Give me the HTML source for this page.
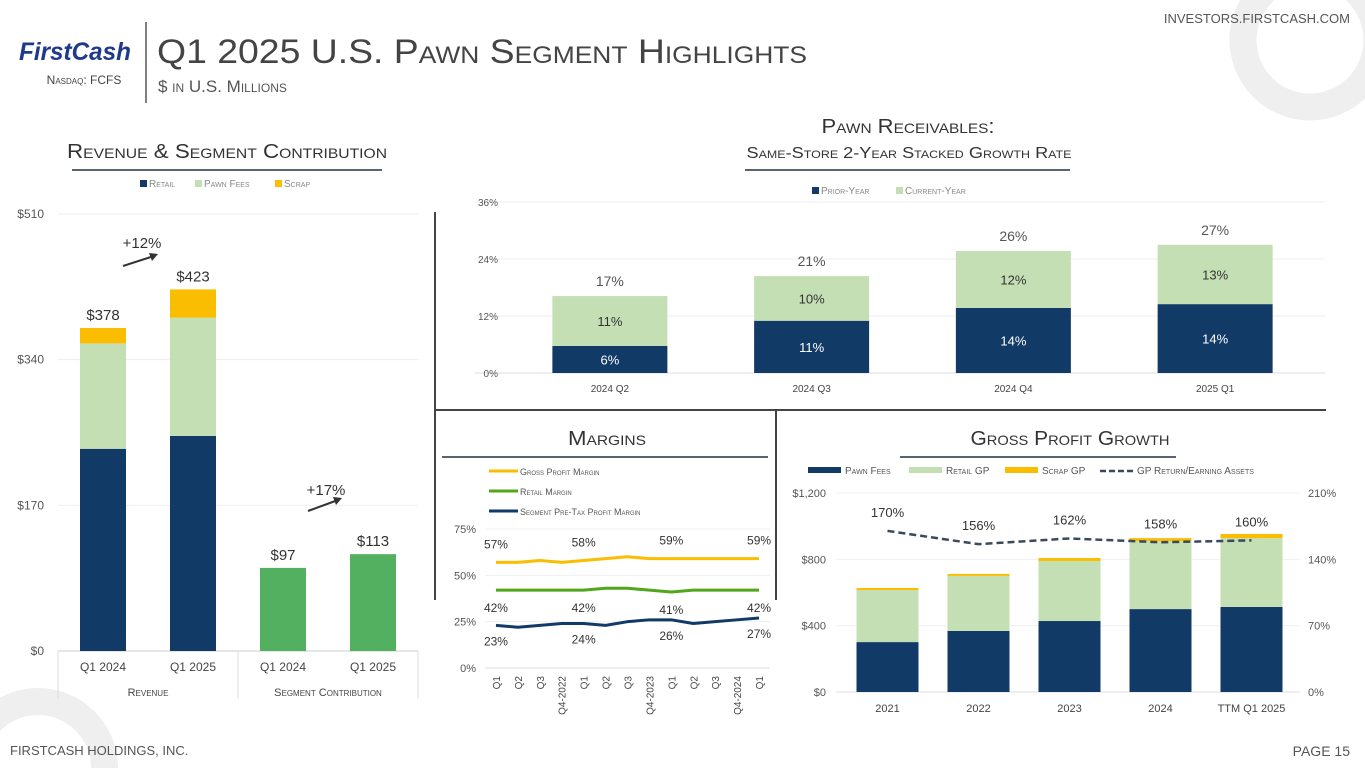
<!DOCTYPE html>
<html><head><meta charset="utf-8"><style>
html,body{margin:0;padding:0;background:#fff;font-family:"Liberation Sans",sans-serif;overflow:hidden;width:1365px;height:768px;}
svg{display:block;}
svg text{font-family:"Liberation Sans",sans-serif;}
</style></head><body>
<svg id="s" width="1365" height="768" viewBox="0 0 1365 768" xmlns="http://www.w3.org/2000/svg">
<circle cx="1310" cy="40" r="67" fill="none" stroke="#efefef" stroke-width="27"/>
<path d="M -42 768 A 80 80 0 0 1 118 768 L 91 768 A 53 53 0 0 0 -15 768 Z" fill="#efefef"/>
<g>
<text x="75" y="60" font-size="25" font-weight="bold" font-style="italic" fill="#1f3a8a" text-anchor="middle" textLength="112" lengthAdjust="spacingAndGlyphs">FirstCash</text>
<text x="84" y="84" font-size="12" fill="#444" text-anchor="middle" style="font-variant:small-caps">Nasdaq: FCFS</text>
</g>
<line x1="146" y1="22" x2="146" y2="103" stroke="#555" stroke-width="1.5"/>
<text x="157" y="63" font-size="34" fill="#444" textLength="650" lengthAdjust="spacingAndGlyphs" style="font-variant:small-caps">Q1 2025 U.S. Pawn Segment Highlights</text>
<text x="158" y="92" font-size="17" fill="#555" style="font-variant:small-caps">$ in U.S. Millions</text>
<text x="1350" y="23" font-size="13" fill="#555" text-anchor="end">INVESTORS.FIRSTCASH.COM</text>
<text x="10" y="755" font-size="13" fill="#555">FIRSTCASH HOLDINGS, INC.</text>
<text x="1350" y="756" font-size="14" fill="#555" text-anchor="end">PAGE 15</text>

<line x1="435" y1="212" x2="435" y2="600" stroke="#444" stroke-width="2"/>
<line x1="435" y1="410" x2="1326" y2="410" stroke="#444" stroke-width="2"/>
<line x1="776" y1="410" x2="776" y2="600" stroke="#444" stroke-width="2"/>

<g id="left"></g>
<g id="rec"></g>
<g id="mar"></g>
<g id="gp"></g>
</svg>
<script>
// ===== Revenue & segment contribution =====
const revCats=["Q1 2024","Q1 2025"];
const revRetail=[236,251];
const revPawn=[123,138];
const revScrap=[18,33];
const revTotals=["$378","$423"];
const segCats=["Q1 2024","Q1 2025"];
const segValues=[97,113];
const segLabels=["$97","$113"];
const revTicks=[0,170,340,510];

// ===== Receivables =====
const recCats=["2024 Q2","2024 Q3","2024 Q4","2025 Q1"];
const recPrior=[5.7,11,13.7,14.5];
const recCurrent=[10.5,9.4,12,12.5];
const recPriorLbl=["6%","11%","14%","14%"];
const recCurLbl=["11%","10%","12%","13%"];
const recTotLbl=["17%","21%","26%","27%"];
const recTicks=[0,12,24,36];

// ===== Margins =====
const marCats=["Q1","Q2","Q3","Q4-2022","Q1","Q2","Q3","Q4-2023","Q1","Q2","Q3","Q4-2024","Q1"];
const marGross=[57,57,58,57,58,59,60,59,59,59,59,59,59];
const marRetail=[42,42,42,42,42,43,43,42,41,42,42,42,42];
const marPretax=[23,22,23,24,24,23,25,26,26,24,25,26,27];
const marTicks=[0,25,50,75];

// ===== Gross profit =====
const gpCats=["2021","2022","2023","2024","TTM Q1 2025"];
const gpPawn=[301,368,428,500,513];
const gpRetail=[314,332,362,410,415];
const gpScrap=[12,12,18,18,25];
const gpReturn=[170,156,162,158,160];
const gpTicksL=[0,400,800,1200];
const gpTicksR=[0,70,140,210];

const NS="http://www.w3.org/2000/svg";
function mk(parent,tag,attrs,text){const e=document.createElementNS(NS,tag);for(const k in attrs)e.setAttribute(k,attrs[k]);if(text!==undefined)e.textContent=text;parent.appendChild(e);return e;}

function title(g,x,y,txt,ul1,ul2,size,name,w){
  const at={x:x,y:y,"font-size":size,fill:"#333","text-anchor":"middle",style:"font-variant:small-caps"};
  if(w){at.textLength=w;at.lengthAdjust="spacingAndGlyphs";}
  const t=mk(g,"text",at,txt);
  
  
  if(ul1!==null){const l=mk(g,"line",{x1:ul1,x2:ul2,y1:y+12,y2:y+12,stroke:"#5a6470","stroke-width":2});
  
  }
}
function legendSq(g,x,y,color,label,name){
  const r=mk(g,"rect",{x:x,y:y-7,width:7,height:7,fill:color});
  
  
  const t=mk(g,"text",{x:x+9,y:y,"font-size":10,fill:"#888",style:"font-variant:small-caps"},label);
  
  
}

// ---- left chart
(function(){
  const g=document.getElementById("left");
  title(g,227,158,"Revenue & Segment Contribution",72,382,20,"revenue-title",320);
  legendSq(g,140,187,"#123a67","Retail","legend-retail");
  legendSq(g,195,187,"#c5dfb5","Pawn Fees","legend-pawn-fees");
  legendSq(g,275,187,"#fbbd00","Scrap","legend-scrap");
  const y0=651,yMax=214,vMax=510;
  const y=v=>y0-(v/vMax)*(y0-yMax);
  const xL=58,xR=418,n=4,slot=(xR-xL)/n,bw=46;
  const xc=i=>xL+slot*(i+0.5);
  revTicks.forEach(t=>{
    if(t>0){const l=mk(g,"line",{x1:xL,x2:xR,y1:y(t),y2:y(t),stroke:"#eee"});}
    const tx=mk(g,"text",{x:44,y:y(t)+4,"font-size":12,fill:"#555","text-anchor":"end"},"$"+t);
    
    
  });
  const base=mk(g,"line",{x1:xL,x2:xR,y1:y0,y2:y0,stroke:"#ccc"});
  [xL,(xL+xR)/2,xR].forEach(x=>{const l=mk(g,"line",{x1:x,x2:x,y1:y0,y2:y0+48,stroke:"#ddd"});});
  revCats.forEach((c,i)=>{
    const x=xc(i)-bw/2;let acc=0;
    [[revRetail,"#123a67","retail"],[revPawn,"#c5dfb5","pawn-fees"],[revScrap,"#fbbd00","scrap"]].forEach(([arr,col,nm])=>{
      const r=mk(g,"rect",{x:x,y:y(acc+arr[i]),width:bw,height:y(acc)-y(acc+arr[i]),fill:col});
      
      
      acc+=arr[i];
    });
    const t=mk(g,"text",{x:xc(i),y:y(acc)-8,"font-size":15,fill:"#333","text-anchor":"middle"},revTotals[i]);
    
    
    const xt=mk(g,"text",{x:xc(i),y:y0+20,"font-size":12,fill:"#444","text-anchor":"middle"},c);
    
    
  });
  segCats.forEach((c,i)=>{
    const j=i+2;
    const r=mk(g,"rect",{x:xc(j)-bw/2,y:y(segValues[i]),width:bw,height:y0-y(segValues[i]),fill:"#52b060"});
    
    
    const t=mk(g,"text",{x:xc(j),y:y(segValues[i])-8,"font-size":15,fill:"#333","text-anchor":"middle"},segLabels[i]);
    
    
    const xt=mk(g,"text",{x:xc(j),y:y0+20,"font-size":12,fill:"#444","text-anchor":"middle"},c);
    
    
  });
  const g1=mk(g,"text",{x:(xL+(xL+xR)/2)/2,y:696,"font-size":11,fill:"#444","text-anchor":"middle",style:"font-variant:small-caps"},"Revenue");
  
  const g2=mk(g,"text",{x:((xL+xR)/2+xR)/2,y:696,"font-size":11,fill:"#444","text-anchor":"middle",style:"font-variant:small-caps"},"Segment Contribution");
  
  [[123,266,158,254,142,248,"+12%"],[308,511,342,498,326,495,"+17%"]].forEach(a=>{
    const l=mk(g,"line",{x1:a[0],y1:a[1],x2:a[2]-4,y2:a[3]+2,stroke:"#333","stroke-width":2});
    
    const p=mk(g,"polygon",{points:`${a[2]},${a[3]} ${a[2]-9},${a[3]-1} ${a[2]-6},${a[3]+7}`,fill:"#333"});
    
    const t=mk(g,"text",{x:a[4],y:a[5],"font-size":15,fill:"#333","text-anchor":"middle"},a[6]);
    
  });
})();

// ---- receivables
(function(){
  const g=document.getElementById("rec");
  title(g,908,133,"Pawn Receivables:",null,null,20,"receivables-title",173);
  title(g,909,158,"Same-Store 2-Year Stacked Growth Rate",745,1070,16,"receivables-subtitle",325);
  legendSq(g,812,194,"#123a67","Prior-Year","legend-prior-year");
  legendSq(g,896,194,"#c5dfb5","Current-Year","legend-current-year");
  const y0=373,yTop=202;const y=v=>y0-(v/36)*(y0-yTop);
  const gL=475,gR=1325;
  const xL=509,xR=1316,slot=(xR-xL)/4,bw=115;const xc=i=>xL+slot*(i+0.5);
  recTicks.forEach(t=>{
    const l=mk(g,"line",{x1:gL,x2:gR,y1:y(t),y2:y(t),stroke:t?"#eee":"#ddd"});
    const tx=mk(g,"text",{x:498,y:y(t)+4,"font-size":10,fill:"#555","text-anchor":"end"},t+"%");
    
  });
  recCats.forEach((c,i)=>{
    const x=xc(i)-bw/2;
    const r1=mk(g,"rect",{x:x,y:y(recPrior[i]),width:bw,height:y0-y(recPrior[i]),fill:"#123a67"});
    
    const tot=recPrior[i]+recCurrent[i];
    const r2=mk(g,"rect",{x:x,y:y(tot),width:bw,height:y(recPrior[i])-y(tot),fill:"#c5dfb5"});
    
    const t1=mk(g,"text",{x:xc(i),y:(y0+y(recPrior[i]))/2+5,"font-size":13,fill:"#fff","text-anchor":"middle"},recPriorLbl[i]);
    
    const t2=mk(g,"text",{x:xc(i),y:(y(recPrior[i])+y(tot))/2+5,"font-size":13,fill:"#333","text-anchor":"middle"},recCurLbl[i]);
    
    const t3=mk(g,"text",{x:xc(i),y:y(tot)-10,"font-size":14,fill:"#555","text-anchor":"middle"},recTotLbl[i]);
    
    const xt=mk(g,"text",{x:xc(i),y:392,"font-size":10,fill:"#444","text-anchor":"middle"},c);
    
  });
})();

// ---- margins
(function(){
  const g=document.getElementById("mar");
  title(g,607,445,"Margins",442,768,20,"margins-title",78);
  [["#fbbd00","Gross Profit Margin",475],["#52a61e","Retail Margin",495],["#123a67","Segment Pre-Tax Profit Margin",515]].forEach((a,i)=>{
    const l=mk(g,"line",{x1:489,x2:518,y1:a[2]-4,y2:a[2]-4,stroke:a[0],"stroke-width":3});
    
    const t=mk(g,"text",{x:520,y:a[2],"font-size":9,fill:"#555",style:"font-variant:small-caps"},a[1]);
    
  });
  const y0=668,yTop=529;const y=v=>y0-(v/75)*(y0-yTop);
  const xL=485,xR=770,n=marCats.length,step=(xR-xL)/n;const x=i=>xL+step*(i+0.5);
  marTicks.forEach(t=>{
    const l=mk(g,"line",{x1:xL,x2:xR,y1:y(t),y2:y(t),stroke:t?"#f0f0f0":"#ddd"});
    const tx=mk(g,"text",{x:476,y:y(t)+4,"font-size":11,fill:"#555","text-anchor":"end"},t+"%");
    
  });
  [[marGross,"#fbbd00","gross-profit-margin-line",-14],[marRetail,"#52a61e","retail-margin-line",22],[marPretax,"#123a67","pretax-margin-line",20]].forEach(([arr,col,nm,off])=>{
    const p=mk(g,"polyline",{points:arr.map((v,i)=>x(i)+","+y(v)).join(" "),fill:"none",stroke:col,"stroke-width":3,"stroke-linejoin":"round"});
    
    [0,4,8,12].forEach(i=>{
      const t=mk(g,"text",{x:x(i),y:y(arr[i])+off,"font-size":12,fill:"#333","text-anchor":"middle"},arr[i]+"%");
      
    });
  });
  marCats.forEach((c,i)=>{
    const t=mk(g,"text",{x:x(i)+4,y:676,"font-size":10,fill:"#444","text-anchor":"end",transform:`rotate(-90 ${x(i)+4} 676)`},c);
    
  });
})();

// ---- gross profit
(function(){
  const g=document.getElementById("gp");
  title(g,1070,445,"Gross Profit Growth",900,1176,20,"gross-profit-title",199);
  [["#123a67","Pawn Fees",808,"legend-pawn-fees-gp"],["#c5dfb5","Retail GP",909,"legend-retail-gp"],["#fbbd00","Scrap GP",1005,"legend-scrap-gp"]].forEach(a=>{
    const r=mk(g,"rect",{x:a[2],y:467,width:33,height:6,fill:a[0]});
    const t=mk(g,"text",{x:a[2]+37,y:474,"font-size":10,fill:"#555",style:"font-variant:small-caps"},a[1]);
    
  });
  const dl=mk(g,"line",{x1:1100,x2:1133,y1:471,y2:471,stroke:"#3a4a5c","stroke-width":2.5,"stroke-dasharray":"6,3"});
  const dt=mk(g,"text",{x:1137,y:474,"font-size":10,fill:"#555",style:"font-variant:small-caps"},"GP Return/Earning Assets");
  const y0=692,yTop=493;const y=v=>y0-(v/1200)*(y0-yTop);const yr=v=>y0-(v/210)*(y0-yTop);
  const gL=836,gR=1300;
  const xL=842,xR=1297,slot=(xR-xL)/5,bw=62;const xc=i=>xL+slot*(i+0.5);
  gpTicksL.forEach(t=>{
    const l=mk(g,"line",{x1:gL,x2:gR,y1:y(t),y2:y(t),stroke:t?"#f0f0f0":"#ddd"});
    const tx=mk(g,"text",{x:826,y:y(t)+4,"font-size":11,fill:"#555","text-anchor":"end"},"$"+t.toLocaleString("en-US"));
    
  });
  gpTicksR.forEach(t=>{
    const tx=mk(g,"text",{x:1308,y:yr(t)+4,"font-size":11,fill:"#555"},t+"%");
    
  });
  gpCats.forEach((c,i)=>{
    const x=xc(i)-bw/2;let acc=0;
    [[gpPawn,"#123a67","pawn"],[gpRetail,"#c5dfb5","retail"],[gpScrap,"#fbbd00","scrap"]].forEach(([arr,col,nm])=>{
      const r=mk(g,"rect",{x:x,y:y(acc+arr[i]),width:bw,height:y(acc)-y(acc+arr[i]),fill:col});
      
      acc+=arr[i];
    });
    const xt=mk(g,"text",{x:xc(i),y:712,"font-size":11,fill:"#444","text-anchor":"middle"},c);
    
    const t=mk(g,"text",{x:xc(i),y:yr(gpReturn[i])-14,"font-size":13,fill:"#333","text-anchor":"middle"},gpReturn[i]+"%");
    
  });
  const p=mk(g,"polyline",{points:gpReturn.map((v,i)=>xc(i)+","+yr(v)).join(" "),fill:"none",stroke:"#3a4a5c","stroke-width":2.5,"stroke-dasharray":"7,4"});
  
})();
</script>
</body></html>
